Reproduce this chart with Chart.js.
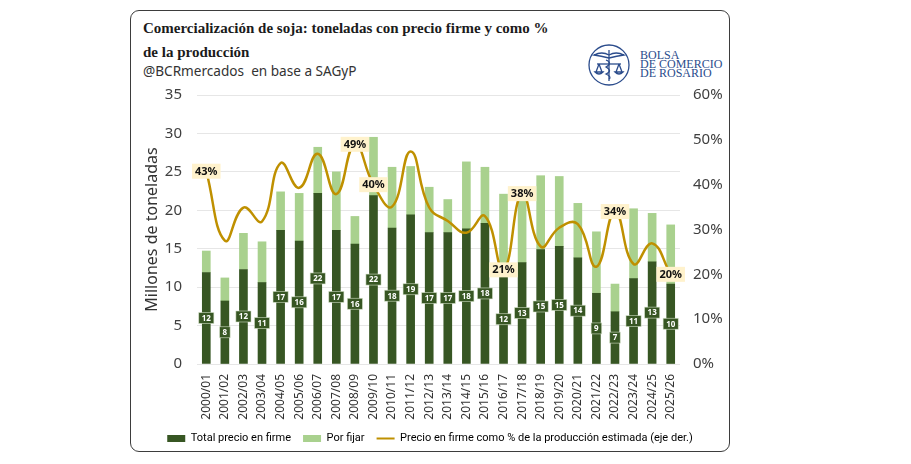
<!DOCTYPE html>
<html>
<head>
<meta charset="utf-8">
<script src="https://cdn.jsdelivr.net/npm/chart.js@4.4.0/dist/chart.umd.min.js"></script>
<style>
  html, body { margin: 0; padding: 0; background: #fff; width: 911px; height: 464px; overflow: hidden; }
  #card { position: absolute; left: 130px; top: 10px; width: 600px; height: 442px; box-sizing: border-box;
          border: 1.5px solid #3d3d3d; border-radius: 9px; }
  #title { position: absolute; left: 143px; top: 16px; font: bold 15px 'Liberation Serif', serif; color: #1b1b1b; line-height: 24px; }
  #sub { position: absolute; left: 143px; top: 62px; font: 13.6px 'Noto Sans', sans-serif; color: #333; line-height: 18px; white-space: pre; }
  #logo { position: absolute; left: 588px; top: 43px; }
  #logoText { position: absolute; left: 640px; top: 51px; font: 12px 'Liberation Serif', serif; color: #2b4c8c; line-height: 9px; }
  #chartBox { position: absolute; left: 131px; top: 71px; width: 598px; height: 383px; }
</style>
</head>
<body>
<div id="card"></div>
<div id="title">Comercialización de soja: toneladas con precio firme y como %<br>de la producción</div>
<div id="sub">@BCRmercados  en base a SAGyP</div>
<svg id="logo" width="44" height="44" viewBox="0 0 44 44">
  <g fill="none" stroke="#2b4c8c" stroke-width="1.3">
    <circle cx="21" cy="22" r="20"/>
    <line x1="21" y1="7" x2="21" y2="38"/>
    <path d="M21 12 Q14 8 6 12 Q13 13 21 15"/>
    <path d="M21 12 Q28 8 36 12 Q29 13 21 15"/>
    <line x1="9" y1="21" x2="33" y2="21"/>
    <path d="M11 21 L8 29 M11 21 L14 29 M7 29 Q11 33 15 29 Z"/>
    <path d="M31 21 L28 29 M31 21 L34 29 M27 29 Q31 33 35 29 Z"/>
    <path d="M18 17 Q25 20 18 24 Q25 28 18 31 Q24 34 21 36"/>
  </g>
</svg>
<div id="logoText">BOLSA<br>DE COMERCIO<br>DE ROSARIO</div>
<div id="chartBox"><canvas id="c" width="598" height="383"></canvas></div>

<script>
// campañas
const campaigns = ['2000/01', '2001/02', '2002/03', '2003/04', '2004/05', '2005/06', '2006/07', '2007/08', '2008/09',
  '2009/10', '2010/11', '2011/12', '2012/13', '2013/14', '2014/15', '2015/16', '2016/17', '2017/18', '2018/19',
  '2019/20', '2020/21', '2021/22', '2022/23', '2023/24', '2024/25', '2025/26'];

// millones de toneladas con precio firme
const firmTons = [11.9, 8.2, 12.3, 10.6, 17.4, 16.0, 22.2, 17.4, 15.6, 21.9, 17.7, 19.4, 17.1, 17.1, 17.6, 18.3,
  11.6, 13.2, 14.9, 15.3, 13.8, 9.2, 6.8, 11.1, 13.3, 10.4];

// millones de toneladas por fijar (encima de lo fijado)
const pendingTons = [2.8, 3.0, 4.7, 5.3, 5.0, 6.2, 6.0, 7.6, 3.6, 7.6, 7.9, 6.3, 5.9, 4.3, 8.7, 7.3,
  10.5, 8.2, 9.6, 9.1, 7.1, 8.0, 3.6, 9.1, 6.3, 7.7];

// precio en firme como % de la producción estimada
const firmPct = [43, 27.5, 34.9, 31.8, 44.8, 39.3, 46.9, 37.9, 49, 40, 35.1, 47.4, 34.9, 31.9, 29.3, 33.0,
  21, 38, 26.2, 30.4, 31.2, 21.7, 34, 22.3, 26.9, 20];

// puntos de la línea que llevan etiqueta
const pctLabelIdx = [0, 8, 9, 16, 17, 22, 25];

const darkGreen = '#375623';
const lightGreen = '#a9d18e';
const gold = '#bf9000';
const textColor = '#404040';

const valueLabels = {
  id: 'valueLabels',
  afterDatasetsDraw(chart) {
    const ctx = chart.ctx;
    ctx.save();
    ctx.textAlign = 'center';
    ctx.textBaseline = 'middle';

    // etiquetas de las barras de precio firme
    ctx.font = 'bold 8px "Noto Sans", sans-serif';
    chart.getDatasetMeta(0).data.forEach((el, i) => {
      const txt = String(Math.round(firmTons[i]));
      const w = ctx.measureText(txt).width + 6;
      const h = 11;
      const y = (el.y + el.base) / 2;
      ctx.fillStyle = darkGreen;
      ctx.fillRect(el.x - w / 2, y - h / 2, w, h);
      ctx.strokeStyle = 'rgba(220,232,208,0.7)';
      ctx.lineWidth = 0.8;
      ctx.strokeRect(el.x - w / 2, y - h / 2, w, h);
      ctx.fillStyle = '#fff';
      ctx.fillText(txt, el.x, y + 0.5);
    });

    // etiquetas de porcentaje
    ctx.font = 'bold 11px "Noto Sans", sans-serif';
    const lineMeta = chart.getDatasetMeta(2);
    pctLabelIdx.forEach(i => {
      const el = lineMeta.data[i];
      const txt = Math.round(firmPct[i]) + '%';
      const w = ctx.measureText(txt).width + 6;
      const h = 15;
      ctx.fillStyle = '#fff2cc';
      ctx.fillRect(el.x - w / 2, el.y - h / 2, w, h);
      ctx.fillStyle = '#111';
      ctx.fillText(txt, el.x, el.y + 0.5);
    });
    ctx.restore();
  }
};

new Chart(document.getElementById('c'), {
  type: 'bar',
  data: {
    labels: campaigns,
    datasets: [
      { label: 'Total precio en firme', data: firmTons, backgroundColor: darkGreen, barThickness: 8, yAxisID: 'y', order: 1 },
      { label: 'Por fijar', data: pendingTons, backgroundColor: lightGreen, barThickness: 8, yAxisID: 'y', order: 1 },
      { label: 'Precio en firme como % de la producción estimada (eje der.)', data: firmPct, type: 'line',
        yAxisID: 'y1', borderColor: gold, backgroundColor: gold, borderWidth: 2.5, pointRadius: 0, tension: 0.45, order: 0 }
    ]
  },
  options: {
    responsive: false,
    animation: false,
    layout: { padding: { top: 4, bottom: 0 } },
    plugins: {
      tooltip: { enabled: false },
      legend: {
        position: 'bottom',
        labels: {
          color: '#333',
          font: { size: 11, family: 'Roboto' },
          boxWidth: 18,
          boxHeight: 7,
          padding: 12,
          usePointStyle: true,
          pointStyleWidth: 18,
          sort: (a, b) => a.datasetIndex - b.datasetIndex,
          generateLabels(chart) {
            return chart.data.datasets.map((ds, i) => ({
              text: ds.label,
              fillStyle: ds.backgroundColor,
              strokeStyle: ds.type === 'line' ? ds.borderColor : ds.backgroundColor,
              lineWidth: ds.type === 'line' ? 2 : 0,
              pointStyle: ds.type === 'line' ? 'line' : 'rect',
              datasetIndex: i,
              hidden: false
            }));
          }
        }
      }
    },
    scales: {
      x: {
        stacked: true,
        grid: { display: false, drawTicks: false },
        border: { display: false },
        ticks: { autoSkip: false, minRotation: 90, maxRotation: 90, color: '#333', padding: 10,
                 font: { size: 12, family: 'Noto Sans' } },
        afterFit(scale) { scale.height = 57; }
      },
      y: {
        stacked: true,
        min: 0, max: 35,
        ticks: { stepSize: 5, color: textColor, padding: 15, font: { size: 15, family: 'Noto Sans' } },
        grid: { color: '#e6e6e6', drawTicks: false },
        border: { display: false },
        title: { display: true, text: 'Millones de toneladas', color: '#333', padding: { top: 12, bottom: 0 },
                 font: { size: 16, family: 'Noto Sans' } },
        afterFit(scale) { scale.width = 66; }
      },
      y1: {
        position: 'right',
        min: 0, max: 60,
        ticks: { stepSize: 10, color: textColor, padding: 13, font: { size: 15, family: 'Noto Sans' },
                 callback: v => v + '%' },
        grid: { display: false, drawTicks: false },
        border: { display: false },
        afterFit(scale) { scale.width = 49; }
      }
    }
  },
  plugins: [valueLabels]
});
</script>
</body>
</html>
